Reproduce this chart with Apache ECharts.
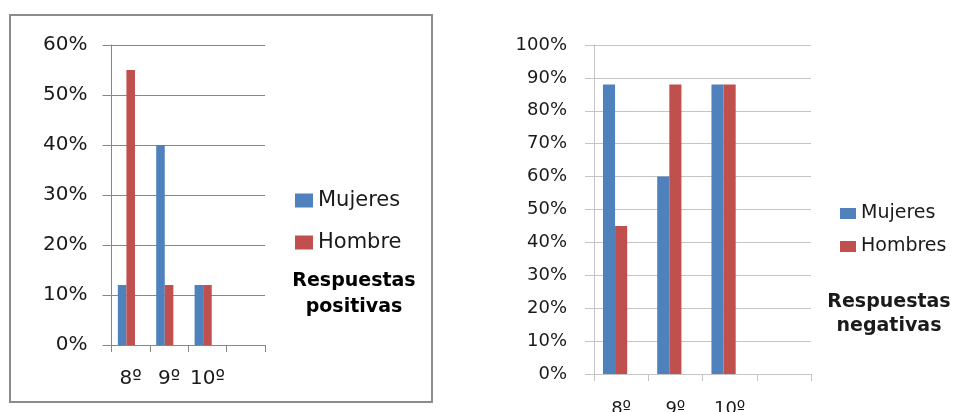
<!DOCTYPE html>
<html><head><meta charset="utf-8">
<script src="https://cdn.jsdelivr.net/npm/echarts@6/dist/echarts.min.js"></script>
<style>html,body{margin:0;padding:0;background:#fff}#c{width:973px;height:412px}</style>
</head><body><div id="c"></div>
<script>
const categories = ['8º', '9º', '10º', ''];
const posTicks = [0, 10, 20, 30, 40, 50, 60];
const negTicks = [0, 10, 20, 30, 40, 50, 60, 70, 80, 90, 100];
const mujeresPos = [12, 40, 12, null];
const hombrePos = [55, 12, 12, null];
const mujeresNeg = [88, 60, 88, null];
const hombresNeg = [45, 88, 88, null];
const emptySlot = [null, null, null, null];

const BLUE = '#4F81BD', RED = '#C0504D';
const chart = echarts.init(document.getElementById('c'), null, {renderer: 'canvas'});

function yAxis(gi, ticks, fs, family, grid, margin) {
  return {
    type: 'value', gridIndex: gi, min: ticks[0], max: ticks[ticks.length - 1], interval: 10,
    axisLine: {show: true, lineStyle: {color: grid}},
    axisTick: {show: true, length: 9, lineStyle: {color: grid}},
    splitLine: {show: true, lineStyle: {color: grid, width: 1}},
    axisLabel: {formatter: '{value}%', fontSize: fs, fontFamily: family, color: '#1a1a1a', margin: margin}
  };
}
function xAxis(gi, fs, family, grid, margin) {
  return {
    type: 'category', gridIndex: gi, data: categories,
    axisLine: {show: true, lineStyle: {color: grid}},
    axisTick: {show: true, length: 7, alignWithLabel: false, lineStyle: {color: grid}},
    axisLabel: {interval: 0, hideOverlap: false, fontSize: fs, fontFamily: family, color: '#1a1a1a', margin: margin, lineHeight: fs}
  };
}
function bar(name, data, color, xi) {
  return {name: name, type: 'bar', data: data, xAxisIndex: xi, yAxisIndex: xi,
    itemStyle: {color: color}, barGap: '0%', barCategoryGap: '33%', silent: true};
}

chart.setOption({
  animation: false,
  grid: [
    {left: 111.5, top: 45, width: 153.5, height: 300, outerBoundsMode: 'none', containLabel: false},
    {left: 594, top: 45, width: 217, height: 329, outerBoundsMode: 'none', containLabel: false}
  ],
  xAxis: [xAxis(0, 20, 'DejaVu Sans', '#868686', 24), xAxis(1, 18, 'DejaVu Sans', '#c4c4c4', 26)],
  yAxis: [yAxis(0, posTicks, 20, 'DejaVu Sans', '#868686', 24), yAxis(1, negTicks, 18, 'DejaVu Sans', '#c4c4c4', 27)],
  legend: [
    {orient: 'vertical', left: 295, top: 190, padding: 0, itemGap: 21, itemWidth: 18, itemHeight: 14,
     data: ['Mujeres', 'Hombre'], icon: 'rect',
     textStyle: {fontSize: 21, fontFamily: 'DejaVu Sans', color: '#1a1a1a', lineHeight: 21}},
    {orient: 'vertical', left: 840, top: 204, padding: 0, itemGap: 14, itemWidth: 16, itemHeight: 11,
     data: ['Mujeres ', 'Hombres'], icon: 'rect',
     textStyle: {fontSize: 19, fontFamily: 'DejaVu Sans', color: '#1a1a1a', lineHeight: 19}}
  ],
  title: [
    {text: 'Respuestas\npositivas', left: 354, top: 268, textAlign: 'center', padding: 0,
     textStyle: {fontSize: 19, fontWeight: 900, fontFamily: 'DejaVu Sans', color: '#000', lineHeight: 26}},
    {text: 'Respuestas\nnegativas', left: 889, top: 290, textAlign: 'center', padding: 0,
     textStyle: {fontSize: 19, fontWeight: 'bold', fontFamily: 'DejaVu Sans', color: '#1a1a1a', lineHeight: 24}}
  ],
  graphic: [
    {type: 'rect', shape: {x: 10, y: 15, width: 422, height: 387}, silent: true,
     style: {fill: 'none', stroke: '#8c8c8c', lineWidth: 2}}
  ],
  series: [
    bar('Mujeres', mujeresPos, BLUE, 0),
    bar('Hombre', hombrePos, RED, 0),
    bar('spacer0', emptySlot, 'rgba(0,0,0,0)', 0),
    bar('Mujeres ', mujeresNeg, BLUE, 1),
    bar('Hombres', hombresNeg, RED, 1),
    bar('spacer1', emptySlot, 'rgba(0,0,0,0)', 1)
  ]
});
</script></body></html>
